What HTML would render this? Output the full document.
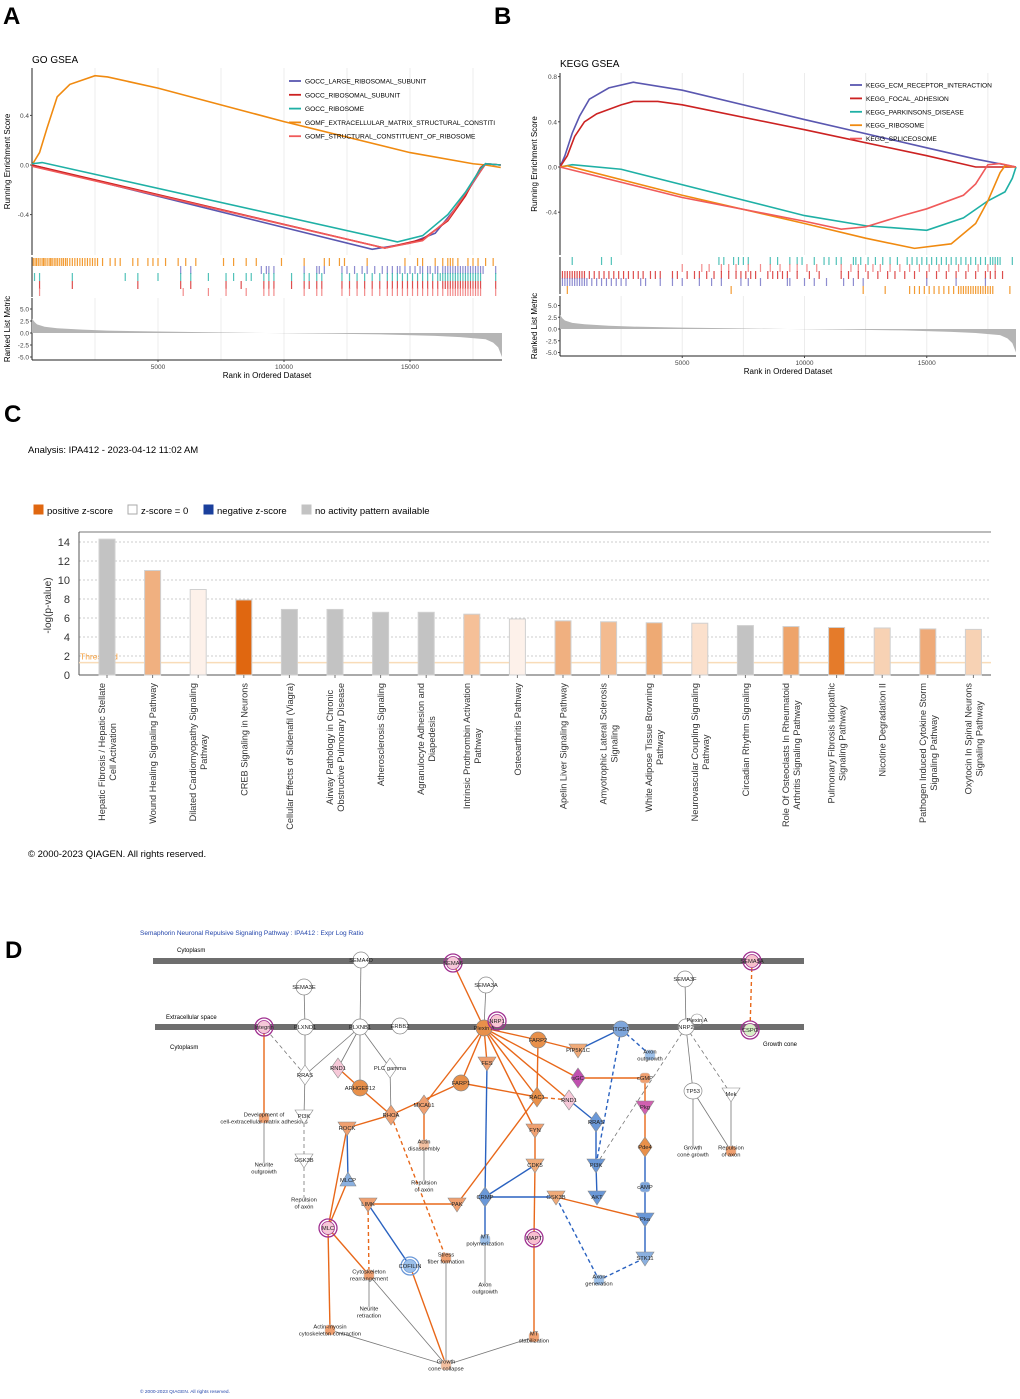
<!DOCTYPE html>
<html><head><meta charset="utf-8"><style>
html,body{margin:0;padding:0;background:#fff;}
svg{display:block;font-family:"Liberation Sans",Arial,sans-serif;}
</style></head><body>
<svg id="fig" width="1020" height="1399" viewBox="0 0 1020 1399" xmlns="http://www.w3.org/2000/svg">
<g font-weight="bold" font-size="24" fill="#000">
<text x="3" y="24">A</text>
<text x="494" y="24">B</text>
<text x="4" y="422">C</text>
<text x="5" y="958">D</text>
</g>
<g id="pa"></g>
<g id="pb"></g>
<g id="pc"></g>
<g id="pd"></g>
</svg>
<script>
// ---------- Panel A data ----------
const goNames = ["GOCC_LARGE_RIBOSOMAL_SUBUNIT","GOCC_RIBOSOMAL_SUBUNIT","GOCC_RIBOSOME","GOMF_EXTRACELLULAR_MATRIX_STRUCTURAL_CONSTITI","GOMF_STRUCTURAL_CONSTITUENT_OF_RIBOSOME"];
const goColors = ["#5a57b0","#cc2222","#1fb0a5","#f08a10","#f05a5a"];
const goRank1 = [0,13500,15000,16000,17000,17800,18000,18600];
const goES1 = [0,-0.68,-0.63,-0.55,-0.3,-0.05,0.01,0];
const goRank2 = [0,14000,15500,16500,17200,17800,18000,18600];
const goES2 = [0,-0.67,-0.6,-0.45,-0.25,-0.02,0.01,0];
const goRank3 = [0,400,14500,15500,16500,17200,17800,18000,18600];
const goES3 = [0.01,0.02,-0.62,-0.57,-0.4,-0.22,-0.03,0.01,0];
const goRank4 = [0,300,600,1000,1500,2500,3000,5000,10000,15000,17500,18000,18600];
const goES4 = [0,0.1,0.3,0.55,0.65,0.72,0.71,0.62,0.35,0.1,0.01,0,-0.02];
const goRank5 = [0,14000,15500,16500,17500,18000,18600];
const goES5 = [-0.01,-0.67,-0.61,-0.44,-0.14,0.01,0];
const goRugOrange = [50,120,180,250,320,400,460,520,600,680,740,800,880,950,1020,1100,1180,1250,1330,1400,1500,1600,1700,1800,1900,2000,2100,2200,2300,2400,2500,2600,2800,3100,3300,3500,4000,4200,4600,4800,5000,5300,5800,6100,6500,7600,8000,8500,8900,9900,10800,11600,11800,12200,12400,13300,14800,15300,15500,16000,16300,16500,16600,16700,16900,17300,17500,17700,18000,18300];
const goRugBlue = [5900,6300,9100,9300,9400,9600,10800,11300,11400,11600,12300,12500,12800,13100,13300,13600,13900,14100,14300,14500,14600,14800,15000,15200,15400,15500,15700,15800,16000,16100,16300,16400,16500,16600,16700,16800,16900,17000,17100,17200,17300,17400,17500,17600,17700,17800,17900,18400];
const goRugTeal = [100,300,1600,3700,4200,5000,5900,6300,7000,7700,8000,8500,8700,9200,9400,9600,10300,10800,11000,11300,11500,12300,12600,12900,13200,13500,13800,14100,14300,14500,14700,14900,15100,15300,15500,15700,15900,16100,16200,16300,16400,16500,16600,16700,16800,16900,17000,17100,17200,17300,17400,17500,17600,17700,17800,18400];
const goRugRed = [300,1600,4200,5900,6300,7700,8300,9200,9400,9600,10300,10800,11000,11300,11500,12300,12600,12900,13200,13500,13800,14100,14300,14500,14700,14900,15100,15300,15500,15700,15900,16100,16300,16400,16500,16600,16700,16800,16900,17000,17100,17200,17300,17400,17500,17600,17700,17800,18400];
const goRugPink = [300,6000,7000,7700,8500,9200,9400,9600,10800,11300,11500,12300,12600,12900,13200,13500,13800,14100,14300,14500,14700,14900,15100,15300,15500,15700,15900,16100,16300,16500,16600,16700,16800,16900,17000,17100,17200,17300,17400,17500,17600,17700,17800,18400];
// ---------- Panel B data ----------
const kgNames = ["KEGG_ECM_RECEPTOR_INTERACTION","KEGG_FOCAL_ADHESION","KEGG_PARKINSONS_DISEASE","KEGG_RIBOSOME","KEGG_SPLICEOSOME"];
const kgColors = ["#5a57b0","#cc2222","#1fb0a5","#f08a10","#f05a5a"];
const kgRank1 = [0,200,500,800,1200,2000,3000,5000,10000,15000,17000,18650];
const kgES1 = [0,0.1,0.3,0.45,0.6,0.7,0.75,0.68,0.42,0.17,0.07,0];
const kgRank2 = [0,300,600,1000,1500,2500,3000,4000,5000,10000,15000,17000,18650];
const kgES2 = [0,0.1,0.27,0.4,0.47,0.55,0.58,0.58,0.55,0.33,0.1,0,0];
const kgRank3 = [0,500,2500,10000,12500,15000,16500,17500,18200,18500,18650];
const kgES3 = [0,0.02,-0.02,-0.43,-0.52,-0.56,-0.45,-0.3,-0.22,-0.1,0];
const kgRank4 = [0,300,5000,10000,12500,14500,16000,17000,17500,18000,18200,18650];
const kgES4 = [0,0.01,-0.25,-0.5,-0.63,-0.72,-0.68,-0.5,-0.3,-0.05,0.01,0];
const kgRank5 = [0,5000,10000,11500,12500,14000,15000,16500,17000,17500,18000,18650];
const kgES5 = [0,-0.27,-0.48,-0.55,-0.53,-0.43,-0.37,-0.25,-0.15,0.02,0.03,0];
const kgRugTeal = [500,1700,2100,6500,6700,7100,7300,7500,7700,8600,8900,9400,9700,9900,10400,10800,11000,11300,11500,12000,12100,12300,12600,12900,13200,13500,13800,14200,14400,14600,14800,15000,15200,15400,15600,15800,16000,16200,16400,16600,16800,17000,17200,17400,17600,17700,17800,17900,18000,18500];
const kgRugPink = [5000,5800,6100,6600,6900,7200,7700,8200,8600,9000,9400,9700,10100,10500,11500,11900,12200,12500,12800,13100,13500,13900,14300,14700,15100,15500,15900,16300,16700,17100,17500,17800];
const kgRugRed = [100,200,300,400,500,600,700,800,900,1000,1200,1400,1600,1800,2000,2200,2400,2600,2800,3000,3200,3400,3700,3900,4100,4600,4800,5200,5500,5700,6000,6300,6600,6900,7200,7400,7600,7800,8000,8500,8700,8900,9100,9300,9700,10200,10600,11500,11800,12200,12600,13000,13400,13700,14100,14500,15000,15400,15800,16200,16600,17000,17400,17600,17800,18100];
const kgRugBlue = [100,200,300,400,500,600,700,800,900,1000,1100,1300,1500,1700,1900,2100,2300,2500,2700,3300,3500,4100,4600,5000,5700,6200,6600,7400,7700,8200,9300,9400,10000,10400,10900,11600,12000,12400,15000,16200,17400];
const kgRugOrange = [300,7000,12400,13300,14300,14500,14700,14900,15100,15300,15500,15700,15900,16100,16300,16400,16500,16600,16700,16800,16900,17000,17100,17200,17300,17400,17500,17600,17700,18400];
// ranked list metric (shared shape)
const metricRank = [0,100,200,500,1000,2000,3000,5000,7000,9300,12000,14000,16000,17000,18000,18300,18500,18650];
const metricVal = [3.0,2.3,1.8,1.3,1.0,0.7,0.5,0.3,0.15,0,-0.15,-0.3,-0.6,-0.85,-1.3,-2.0,-3.0,-5.0];
const rankTicks = [5000,10000,15000];

// ---------- Panel C data ----------
const cLabels = [
 ["Hepatic Fibrosis / Hepatic Stellate","Cell Activation"],["Wound Healing Signaling Pathway"],
 ["Dilated Cardiomyopathy Signaling","Pathway"],["CREB Signaling in Neurons"],
 ["Cellular Effects of Sildenafil (Viagra)"],["Airway Pathology in Chronic","Obstructive Pulmonary Disease"],
 ["Atherosclerosis Signaling"],["Agranulocyte Adhesion and","Diapedesis"],
 ["Intrinsic Prothrombin Activation","Pathway"],["Osteoarthritis Pathway"],
 ["Apelin Liver Signaling Pathway"],["Amyotrophic Lateral Sclerosis","Signaling"],
 ["White Adipose Tissue Browning","Pathway"],["Neurovascular Coupling Signaling","Pathway"],
 ["Circadian Rhythm Signaling"],["Role Of Osteoclasts In Rheumatoid","Arthritis Signaling Pathway"],
 ["Pulmonary Fibrosis Idiopathic","Signaling Pathway"],["Nicotine Degradation II"],
 ["Pathogen Induced Cytokine Storm","Signaling Pathway"],["Oxytocin In Spinal Neurons","Signaling Pathway"]];
const cValues = [14.3,11.0,9.0,7.9,6.9,6.9,6.6,6.6,6.4,5.9,5.7,5.6,5.5,5.45,5.2,5.1,5.0,4.95,4.85,4.8];
const cColors = ["#c3c3c3","#f0b080","#fdf1ea","#e06710","#c3c3c3","#c3c3c3","#c3c3c3","#c3c3c3","#f5c098","#fdf1ea","#f0b080","#f3bb90","#eeaa74","#fbe0cc","#c3c3c3","#eea46a","#e57b2a","#f7d2b4","#efaa78","#f7d2b4"];
const cTicks = [0,2,4,6,8,10,12,14];
const cThreshold = 1.3;

const NS="http://www.w3.org/2000/svg";
function mk(parent,tag,attrs,text){const e=document.createElementNS(NS,tag);for(const k in attrs)e.setAttribute(k,attrs[k]);if(text!==undefined)e.textContent=text;parent.appendChild(e);return e;}

function gsea(g,cfg){
  const X=r=>cfg.x0+r*cfg.xs, Y=v=>cfg.y0-v*cfg.ys, M=v=>cfg.m0-v*cfg.ms;
  // grid
  rankTicks.forEach(t=>{[X(t)-63*cfg.xs/0.0252*0.0252/2, X(t)].forEach(()=>{});});
  [2500,5000,7500,10000,12500,15000,17500].forEach(t=>{
    const l=mk(g,'line',{x1:X(t),x2:X(t),y1:cfg.top,y2:cfg.esBot,stroke:'#ececec','stroke-width':1});
    
    const l2=mk(g,'line',{x1:X(t),x2:X(t),y1:cfg.mTop,y2:cfg.mBot,stroke:'#ececec','stroke-width':1});
    
  });
  // title
  const t=mk(g,'text',{x:cfg.x0,y:cfg.titleY,'font-size':10},cfg.title);
  
  // axes
  mk(g,'line',{x1:cfg.x0,x2:cfg.x0,y1:cfg.top,y2:cfg.esBot,stroke:'#222','stroke-width':1});
  mk(g,'line',{x1:cfg.x0,x2:cfg.x0,y1:cfg.rugTop,y2:cfg.rugBot,stroke:'#222','stroke-width':1});
  mk(g,'line',{x1:cfg.x0,x2:cfg.x0,y1:cfg.mTop,y2:cfg.mBot,stroke:'#222','stroke-width':1});
  mk(g,'line',{x1:cfg.x0,x2:cfg.x1,y1:cfg.mBot,y2:cfg.mBot,stroke:'#222','stroke-width':1});
  cfg.esTicks.forEach(v=>{
    mk(g,'line',{x1:cfg.x0-2,x2:cfg.x0,y1:Y(v),y2:Y(v),stroke:'#444'});
    const tx=mk(g,'text',{x:cfg.x0-3,y:Y(v)+2.5,'font-size':6.5,fill:'#444','text-anchor':'end'},v.toFixed(1));
    
  });
  [5,2.5,0,-2.5,-5].forEach(v=>{
    mk(g,'line',{x1:cfg.x0-2,x2:cfg.x0,y1:M(v),y2:M(v),stroke:'#444'});
    const tx=mk(g,'text',{x:cfg.x0-3,y:M(v)+2.5,'font-size':6.5,fill:'#444','text-anchor':'end'},v.toFixed(1));
    
  });
  rankTicks.forEach(v=>{
    mk(g,'line',{x1:X(v),x2:X(v),y1:cfg.mBot,y2:cfg.mBot+2,stroke:'#444'});
    const tx=mk(g,'text',{x:X(v),y:cfg.mBot+9,'font-size':6.5,fill:'#444','text-anchor':'middle'},String(v));
    
  });
  const xt=mk(g,'text',{x:(cfg.x0+cfg.x1)/2,y:cfg.mBot+18,'font-size':8,'text-anchor':'middle'},'Rank in Ordered Dataset');
  
  const yt=mk(g,'text',{x:0,y:0,'font-size':8,'text-anchor':'middle',transform:`translate(${cfg.yTitleX},${(cfg.top+cfg.esBot)/2}) rotate(-90)`},'Running Enrichment Score');
  
  const yt2=mk(g,'text',{x:0,y:0,'font-size':8,'text-anchor':'middle',transform:`translate(${cfg.yTitleX},${(cfg.mTop+cfg.mBot)/2}) rotate(-90)`},'Ranked List Metric');
  
  // metric area
  let d=`M${X(0)},${M(0)}`;metricRank.forEach((r,i)=>d+=` L${X(r)},${M(metricVal[i])}`);d+=` L${X(metricRank[metricRank.length-1])},${M(0)} Z`;
  const ar=mk(g,'path',{d,fill:'#b5b5b5'});
  // rugs
  cfg.rugs.forEach(rg=>{
    rg.ranks.forEach(r=>{
      const l=mk(g,'line',{x1:X(r),x2:X(r),y1:rg.y,y2:rg.y+8,stroke:rg.color,'stroke-width':1.2,opacity:0.85});
      
    });
  });
  // curves
  cfg.curves.forEach((c,i)=>{
    const pts=c.r.map((r,j)=>`${X(r)},${Y(c.v[j])}`).join(' ');
    const pl=mk(g,'polyline',{points:pts,fill:'none',stroke:c.color,'stroke-width':1.6});
    
  });
  // legend
  cfg.names.forEach((n,i)=>{
    const y=cfg.legY+i*cfg.legDy;
    const l=mk(g,'line',{x1:cfg.legX,x2:cfg.legX+12,y1:y,y2:y,stroke:cfg.colors[i],'stroke-width':1.8});
    
    const tx=mk(g,'text',{x:cfg.legX+16,y:y+2.5,'font-size':6.6},n);
    
  });
}
gsea(document.getElementById('pa'),{x0:32,x1:502,xs:0.0252,y0:165,ys:124,m0:333,ms:4.8,top:68,esBot:255,rugTop:257,rugBot:297,mTop:298,mBot:360,
  title:'GO GSEA',titleY:63,esTicks:[0.4,0,-0.4],yTitleX:10,legX:289,legY:81,legDy:13.8,names:goNames,colors:goColors,
  rugs:[{ranks:goRugOrange,color:'#f08a10',y:258},{ranks:goRugBlue,color:'#7a78c8',y:266},{ranks:goRugTeal,color:'#35b8ad',y:273},{ranks:goRugRed,color:'#d83030',y:281},{ranks:goRugPink,color:'#f07878',y:288}],
  curves:[{r:goRank4,v:goES4,color:goColors[3]},{r:goRank1,v:goES1,color:goColors[0]},{r:goRank2,v:goES2,color:goColors[1]},{r:goRank5,v:goES5,color:goColors[4]},{r:goRank3,v:goES3,color:goColors[2]}]});
gsea(document.getElementById('pb'),{x0:560,x1:1016,xs:0.02445,y0:167,ys:113,m0:329,ms:4.7,top:73,esBot:255,rugTop:257,rugBot:294,mTop:296,mBot:356,
  title:'KEGG GSEA',titleY:67,esTicks:[0.8,0.4,0,-0.4],yTitleX:537,legX:850,legY:85,legDy:13.4,names:kgNames,colors:kgColors,
  rugs:[{ranks:kgRugTeal,color:'#35b8ad',y:257},{ranks:kgRugPink,color:'#f07878',y:264},{ranks:kgRugRed,color:'#d83030',y:271},{ranks:kgRugBlue,color:'#7a78c8',y:278},{ranks:kgRugOrange,color:'#f08a10',y:286}],
  curves:[{r:kgRank1,v:kgES1,color:kgColors[0]},{r:kgRank2,v:kgES2,color:kgColors[1]},{r:kgRank3,v:kgES3,color:kgColors[2]},{r:kgRank4,v:kgES4,color:kgColors[3]},{r:kgRank5,v:kgES5,color:kgColors[4]}]});

// ---------- Panel C ----------
(function(){
  const g=document.getElementById('pc');
  const L=79,R=991,T=532,B=675,k=9.5;
  const Y=v=>B-v*k, XC=i=>107+i*45.6;
  const an=mk(g,'text',{x:28,y:453,'font-size':9.5},'Analysis: IPA412 - 2023-04-12 11:02 AM');
  
  const leg=[['#e06710','positive z-score',34],['#ffffff','z-score = 0',128],['#1a3f9c','negative z-score',204],['#c3c3c3','no activity pattern available',302]];
  leg.forEach(l=>{
    const r=mk(g,'rect',{x:l[2],y:505,width:9,height:9,fill:l[0],stroke:l[0]=='#ffffff'?'#aaa':l[0]});
    
    const t=mk(g,'text',{x:l[2]+13,y:514,'font-size':9.5},l[1]);
    
  });
  cTicks.forEach(v=>{
    if(v>0){const gl=mk(g,'line',{x1:L,x2:R,y1:Y(v),y2:Y(v),stroke:'#ccc','stroke-dasharray':'2,2'});
    }
    const t=mk(g,'text',{x:70,y:Y(v)+4,'font-size':11,'text-anchor':'end',fill:'#333'},String(v));
    
  });
  mk(g,'line',{x1:L,x2:R,y1:T,y2:T,stroke:'#777'});
  mk(g,'line',{x1:L,x2:L,y1:T,y2:B,stroke:'#555'});
  mk(g,'line',{x1:L,x2:R,y1:B,y2:B,stroke:'#555'});
  const yt=mk(g,'text',{x:0,y:0,'font-size':10,'text-anchor':'middle',fill:'#333',transform:`translate(51,${(T+B)/2+2}) rotate(-90)`},'-log(p-value)');
  
  const th=mk(g,'line',{x1:L,x2:R,y1:Y(cThreshold),y2:Y(cThreshold),stroke:'#f9dcb8','stroke-width':1.5});
  
  const tt=mk(g,'text',{x:80,y:Y(cThreshold)-3,'font-size':8.5,fill:'#f5a040'},'Threshold');
  
  cValues.forEach((v,i)=>{
    const x=XC(i);
    const b=mk(g,'rect',{x:x-8,y:Y(v),width:16,height:B-Y(v),fill:cColors[i],stroke:'#d0d0d0','stroke-width':1});
    
    mk(g,'line',{x1:x,x2:x,y1:B,y2:B+3,stroke:'#777'});
    const lines=cLabels[i];
    const els=lines.map((s,j)=>{
      const t=mk(g,'text',{'font-size':9.2,fill:'#333','text-anchor':'middle'},s);
      
      return t;});
    let w=0;els.forEach(e=>w=Math.max(w,e.getComputedTextLength()));
    const cy=683+w/2, n=els.length;
    els.forEach((e,j)=>{const dx=x+3.5+(j-(n-1)/2)*11;e.setAttribute('transform',`translate(${dx},${cy}) rotate(-90)`);});
  });
  const cp=mk(g,'text',{x:28,y:857,'font-size':9.5},'© 2000-2023 QIAGEN. All rights reserved.');
  
})();

// ---------- Panel D ----------
(function(){
  const g=document.getElementById('pd');
  const O='#e8681a',B='#2a62c0',G='#777';
  const t=mk(g,'text',{x:140,y:935,'font-size':6.5,fill:'#2244aa'},'Semaphorin Neuronal Repulsive Signaling Pathway : IPA412 : Expr Log Ratio');
  
  const m1=mk(g,'rect',{x:153,y:958,width:651,height:6,fill:'#6e6e6e'});
  const m2=mk(g,'rect',{x:155,y:1024,width:649,height:6,fill:'#6e6e6e'});
  [['Cytoplasm',177,952],['Extracellular space',166,1019],['Cytoplasm',170,1049],['Growth cone',763,1046]].forEach(a=>{
    const e=mk(g,'text',{x:a[1],y:a[2],'font-size':6},a[0]);});
  const N={
   sema4d:[361,960,'SEMA4D','c','#fff'],sema6:[453,963,'SEMA6','r','#f6c8d8'],sema5a:[752,961,'SEMA5A','r','#f6c0cc'],
   sema3a:[486,985,'SEMA3A','c','#fff'],sema3e:[304,987,'SEMA3E','c','#fff'],sema3f:[685,979,'SEMA3F','c','#fff'],
   integrin:[264,1027,'Integrin','r','#f6c8d8'],plxnd1:[305,1027,'PLXND1','c','#fff'],plxnb1:[360,1027,'PLXNB1','c','#fff'],
   erbb2:[400,1026,'ERBB2','c','#fff'],plexa:[484,1028,'Plexin A','c','#e8904a'],nrp1:[497,1021,'NRP1','r','#f8c8d4'],
   itgb1:[621,1029,'ITGB1','c','#7ea6dc'],nrp2:[686,1027,'NRP2','c','#fff'],plexa2:[697,1020,'Plexin A','n','#fff'],
   cspg:[750,1030,'CSPG','r','#d8f0c8'],rnd1:[338,1068,'RND1','d','#f6c8d8'],rras:[305,1075,'RRAS','d','#fff'],
   plc:[390,1068,'PLC gamma','d','#fff'],farp2:[538,1040,'FARP2','c','#e8904a'],pip5k1c:[578,1050,'PIP5K1C','v','#f0aa78'],
   fes:[487,1063,'FES','v','#f0a070'],axout1:[650,1055,'Axon outgrowth','f','#9cc0ea'],sgc:[578,1078,'sGC','d','#c050b0'],
   cgmp:[645,1078,'cGMP','f','#f0a070'],arhgef12:[360,1088,'ARHGEF12','c','#e8904a'],farp1:[461,1083,'FARP1','c','#e8904a'],
   rac1:[537,1097,'RAC1','d','#e8904a'],rnd1b:[569,1100,'RND1','d','#f6c8d8'],mical1:[424,1105,'MICAL1','d','#f0a070'],
   rhoa:[391,1115,'RHOA','d','#f0a070'],devel:[264,1118,'Development of cell-extracellular matrix adhesions','f','#f0a070'],
   pi3k:[304,1116,'PI3K','v','#fff'],pkg:[645,1107,'Pkg','v','#d060b0'],tp53:[693,1091,'TP53','e','#fff'],
   mek:[731,1094,'Mek','v','#fff'],rock:[347,1128,'ROCK','v','#f0a070'],fyn:[535,1130,'FYN','v','#f0a070'],
   rras2:[596,1122,'RRAS','d','#6a98d8'],actin:[424,1145,'Actin disassembly','f','#f4c0a0'],pde4:[645,1147,'Pde4','d','#e8904a'],
   gcg:[693,1151,'Growth cone growth','f','#fff'],rep1:[731,1151,'Repulsion of axon','f','#f0a070'],
   neur:[264,1168,'Neurite outgrowth','f','#fff'],gsk3b:[304,1160,'GSK3B','v','#fff'],cdk5:[535,1165,'CDK5','v','#f0aa78'],
   pi3k2:[596,1165,'PI3K','v','#6a98d8'],mlcp:[348,1180,'MLCP','u','#8ab0e0'],rep2:[424,1186,'Repulsion of axon','f','#fff'],
   rep3:[304,1203,'Repulsion of axon','f','#fff'],camp:[645,1187,'cAMP','f','#7ea6dc'],limk:[368,1204,'LIMK','v','#f0a070'],
   pak:[457,1204,'PAK','v','#f0a070'],crmp:[485,1197,'CRMP','d','#6a98d8'],gsk3b2:[556,1197,'GSK3B','v','#f0aa78'],
   akt:[597,1197,'AKT','v','#6a98d8'],pka:[645,1219,'Pka','v','#6a98d8'],mlc:[328,1228,'MLC','r','#f6c8d8'],
   mtpol:[485,1240,'MT polymerization','f','#9cc0ea'],mapt:[534,1238,'MAPT','r','#f8c0d0'],stress:[446,1258,'Stress fiber formation','f','#f0a070'],
   stk11:[645,1258,'STK11','v','#8ab0e0'],cofilin:[410,1266,'COFILIN','r2','#9cc0ea'],cyto:[369,1275,'Cytoskeleton rearrangement','f','#f0a070'],
   axgen:[599,1280,'Axon generation','f','#9cc0ea'],axout2:[485,1288,'Axon outgrowth','f','#fff'],neurret:[369,1312,'Neurite retraction','f','#fff'],
   actmy:[330,1330,'Actin-myosin cytoskeleton contraction','f','#f0a070'],mtstab:[534,1337,'MT stabilization','f','#f0a070'],
   gcc:[446,1365,'Growth cone collapse','f','#f4c0a0']};
  const E=[
   ['sema6','plexa',O,0],['sema5a','cspg',O,1],['sema4d','plxnb1',G,0],['sema3e','plxnd1',G,0],['sema3f','nrp2',G,0],['sema3a','plexa',G,0],
   ['integrin','devel',O,0],['plxnd1','rras',G,0],['rras','integrin',G,1],['rras','pi3k',G,0],['pi3k','gsk3b',G,1],['gsk3b','rep3',G,1],['devel','neur',G,0],
   ['plxnb1','rnd1',G,0],['plxnb1','arhgef12',G,0],['plxnb1','plc',G,0],['plxnb1','rras',G,0],['plc','rhoa',G,0],['rnd1','arhgef12',O,0],['arhgef12','rhoa',O,0],
   ['plexa','farp2',O,0],['plexa','fes',O,0],['plexa','farp1',O,0],['plexa','mical1',O,0],['plexa','rac1',O,0],['plexa','rnd1b',O,0],['plexa','fyn',O,0],['plexa','sgc',O,0],
   ['farp2','pip5k1c',O,0],['farp2','rac1',O,0],['pip5k1c','itgb1',B,0],['itgb1','axout1',B,1],['sgc','cgmp',O,0],['cgmp','pkg',O,0],['pkg','pde4',O,0],['pde4','camp',B,0],
   ['camp','pka',B,0],['pka','stk11',B,0],['stk11','axgen',B,1],['gsk3b2','axgen',B,1],['gsk3b2','pka',O,0],['farp1','rhoa',O,0],['farp1','rac1',O,0],['rac1','rnd1b',O,1],
   ['rnd1b','rras2',B,0],['rras2','pi3k2',B,0],['pi3k2','akt',B,0],['pi3k2','itgb1',B,1],['fyn','cdk5',O,0],['cdk5','crmp',B,0],['cdk5','mapt',O,0],['mapt','mtstab',O,0],
   ['rac1','pak',O,0],['pak','limk',O,0],['fes','crmp',B,0],['crmp','mtpol',B,0],['mtpol','axout2',G,0],['gsk3b2','crmp',B,0],['mical1','actin',O,0],['actin','rep2',G,0],
   ['rhoa','rock',O,0],['rhoa','stress',O,1],['rock','mlcp',B,0],['rock','mlc',O,0],['mlcp','mlc',O,0],['limk','cofilin',B,0],['limk','cyto',O,1],['mlc','cyto',O,0],['mlc','actmy',O,0],
   ['cyto','neurret',G,0],['cyto','gcc',G,0],['cofilin','gcc',O,0],['stress','gcc',G,0],['actmy','gcc',G,0],['mtstab','gcc',G,0],
   ['nrp2','tp53',G,0],['tp53','gcg',G,0],['tp53','rep1',G,0],['nrp2','mek',G,1],['mek','rep1',G,0],['nrp2','pi3k2',G,1]];
  E.forEach(e=>{
    const a=N[e[0]],b=N[e[1]];
    const l=mk(g,'line',{x1:a[0],y1:a[1],x2:b[0],y2:b[1],stroke:e[2],'stroke-width':e[2]==G?0.8:1.4});
    if(e[3])l.setAttribute('stroke-dasharray','4,3');
    
  });
  for(const k in N){
    const [x,y,lab,s,c]=N[k];
    let sh;
    if(s=='c'||s=='e')sh=mk(g,'ellipse',{cx:x,cy:y,rx:s=='e'?9:8,ry:8,fill:c,stroke:'#888','stroke-width':0.7});
    else if(s=='r'||s=='r2'){mk(g,'circle',{cx:x,cy:y,r:9,fill:'none',stroke:s=='r'?'#a03090':'#6a98d8','stroke-width':1.3});sh=mk(g,'circle',{cx:x,cy:y,r:6.5,fill:c,stroke:s=='r'?'#a03090':'#6a98d8','stroke-width':0.8});}
    else if(s=='d')sh=mk(g,'polygon',{points:`${x},${y-10} ${x+7},${y} ${x},${y+10} ${x-7},${y}`,fill:c,stroke:'#888','stroke-width':0.6});
    else if(s=='v')sh=mk(g,'polygon',{points:`${x-9},${y-6} ${x+9},${y-6} ${x},${y+8}`,fill:c,stroke:'#888','stroke-width':0.6});
    else if(s=='u')sh=mk(g,'polygon',{points:`${x-8},${y+6} ${x+8},${y+6} ${x},${y-8}`,fill:c,stroke:'#888','stroke-width':0.6});
    else if(s=='f')sh=mk(g,'rect',{x:x-5,y:y-5,width:10,height:10,rx:3,fill:c,stroke:'#ccc','stroke-width':0.5});
    else sh=mk(g,'circle',{cx:x,cy:y,r:6,fill:'none',stroke:'#888','stroke-width':0.6});
    
    const words=lab.length>12&&s=='f'?(lab.split(' ').length>3?[lab.split(' ').slice(0,2).join(' '),lab.split(' ').slice(2).join(' ')]:[lab.split(' ')[0],lab.split(' ').slice(1).join(' ')]):[lab];
    words.forEach((w,i)=>{
      const tx=mk(g,'text',{x:x,y:y+2+(i-(words.length-1)/2)*7,'font-size':5.8,'text-anchor':'middle',fill:'#222'},w);
      
    });
  }
  const cp=mk(g,'text',{x:140,y:1393,'font-size':4.8,fill:'#2244aa'},'© 2000-2023 QIAGEN. All rights reserved.');
  
})();
</script>
</body></html>
